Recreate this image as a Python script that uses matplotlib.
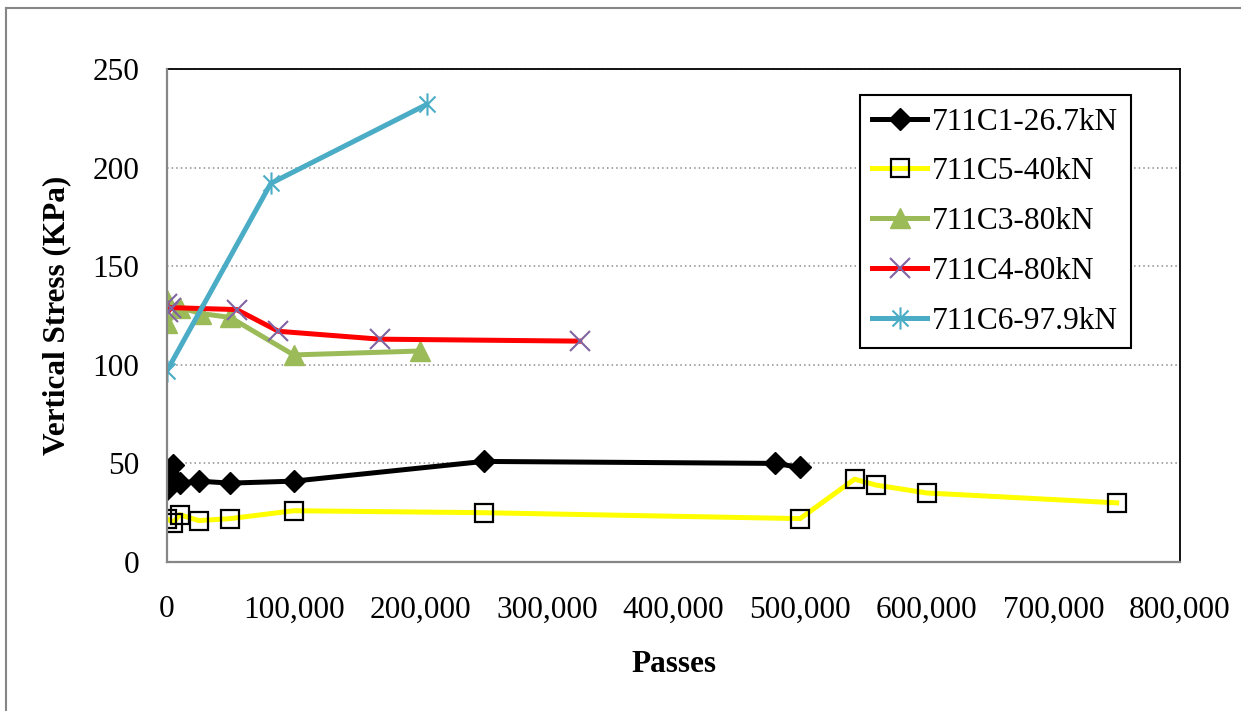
import matplotlib
matplotlib.use("Agg")
import matplotlib.pyplot as plt
from matplotlib.path import Path
from matplotlib.ticker import FuncFormatter, MultipleLocator
from matplotlib.lines import Line2D

plt.rcParams['font.family'] = ['Liberation Serif', 'DejaVu Serif']

# data (passes, vertical stress in KPa)
c1_x = [0, 1000, 5000, 10000, 25000, 50000, 100000, 250000, 480000, 500000]
c1_y = [37, 45, 49, 40, 41, 40, 41, 51, 50, 48]

c5_x = [0, 5000, 10000, 25000, 50000, 100000, 250000, 500000, 543000, 560000, 600000, 750000]
c5_y = [22, 20, 24, 21, 22, 26, 25, 22, 42, 39, 35, 30]

c3_x = [0, 0, 10000, 27000, 50000, 100000, 200000]
c3_y = [133, 121, 129, 126, 124, 105, 107]

c4_x = [0, 1000, 3000, 55000, 88000, 168000, 326000]
c4_y = [131, 127, 129, 128, 117, 113, 112]

c6_x = [0, 82000, 205000]
c6_y = [97, 192, 232]

labels = ['711C1-26.7kN', '711C5-40kN', '711C3-80kN', '711C4-80kN', '711C6-97.9kN']

# asterisk marker: X plus a vertical bar
star = Path([(0, -1), (0, 1), (-0.72, -0.72), (0.72, 0.72), (-0.72, 0.72), (0.72, -0.72)],
            [Path.MOVETO, Path.LINETO, Path.MOVETO, Path.LINETO, Path.MOVETO, Path.LINETO])

fig = plt.figure(figsize=(12.41, 7.11), dpi=100)
ax = fig.add_axes([167 / 1241, 1 - 562 / 711, (1180 - 167) / 1241, (562 - 69) / 711])

lw = 3.6
ax.plot(c1_x, c1_y, color='black', lw=lw, marker='D', ms=11.5, mfc='black', mec='black',
        label=labels[0], zorder=5)
ax.plot(c5_x, c5_y, color='#FFFF00', lw=lw, marker='s', ms=13.5, mfc='none', mec='black', mew=1.6,
        label=labels[1], zorder=4)
ax.plot(c3_x, c3_y, color='#9BBB59', lw=lw, marker='^', ms=14, mfc='#9BBB59', mec='#9BBB59',
        label=labels[2], zorder=3)
ax.plot(c4_x, c4_y, color='#FF0000', lw=lw, marker='x', ms=15, mec='#8064A2', mew=1.5,
        label=labels[3], zorder=3)
ax.plot(c6_x, c6_y, color='#4BACC6', lw=lw, marker=star, ms=16, mec='#4BACC6', mew=1.5,
        label=labels[4], zorder=3)

ax.set_xlim(0, 800000)
ax.set_ylim(0, 250)
ax.xaxis.set_major_locator(MultipleLocator(100000))
ax.yaxis.set_major_locator(MultipleLocator(50))
ax.xaxis.set_major_formatter(FuncFormatter(lambda v, p: '{:,.0f}'.format(v)))
ax.tick_params(axis='both', length=0, labelsize=22.5)
ax.tick_params(axis='x', pad=24)
ax.tick_params(axis='y', pad=20)

ax.grid(axis='y', color='#8c8c8c', linestyle=(0, (1, 2)), linewidth=1.1)
ax.set_axisbelow(True)

for s in ['top', 'right']:
    ax.spines[s].set_color('black')
    ax.spines[s].set_linewidth(1.3)
for s in ['left', 'bottom']:
    ax.spines[s].set_color('#868686')
    ax.spines[s].set_linewidth(1.6)
    ax.spines[s].set_zorder(6)

ax.set_xlabel('Passes', fontsize=22.5, fontweight='bold')
ax.set_ylabel('Vertical Stress (KPa)', fontsize=22.5, fontweight='bold')
ax.xaxis.set_label_coords(0.5, -0.178)
ax.yaxis.set_label_coords(-0.095, 0.5)

leg = ax.legend(loc='upper left', bbox_to_anchor=(0.684, 0.947), fontsize=22.6,
                frameon=True, fancybox=False, edgecolor='black', framealpha=1,
                handlelength=1.75, handletextpad=0.15, labelspacing=0.66,
                borderpad=0.4, borderaxespad=0)
leg.get_frame().set_linewidth(1.5)

# outer chart border
fig.add_artist(Line2D([6 / 1241, 6 / 1241], [0, 1 - 8 / 711], color='#868686', lw=1.5))
fig.add_artist(Line2D([6 / 1241, 1], [1 - 8 / 711, 1 - 8 / 711], color='#868686', lw=1.5))

fig.savefig('out.png', dpi=100)
